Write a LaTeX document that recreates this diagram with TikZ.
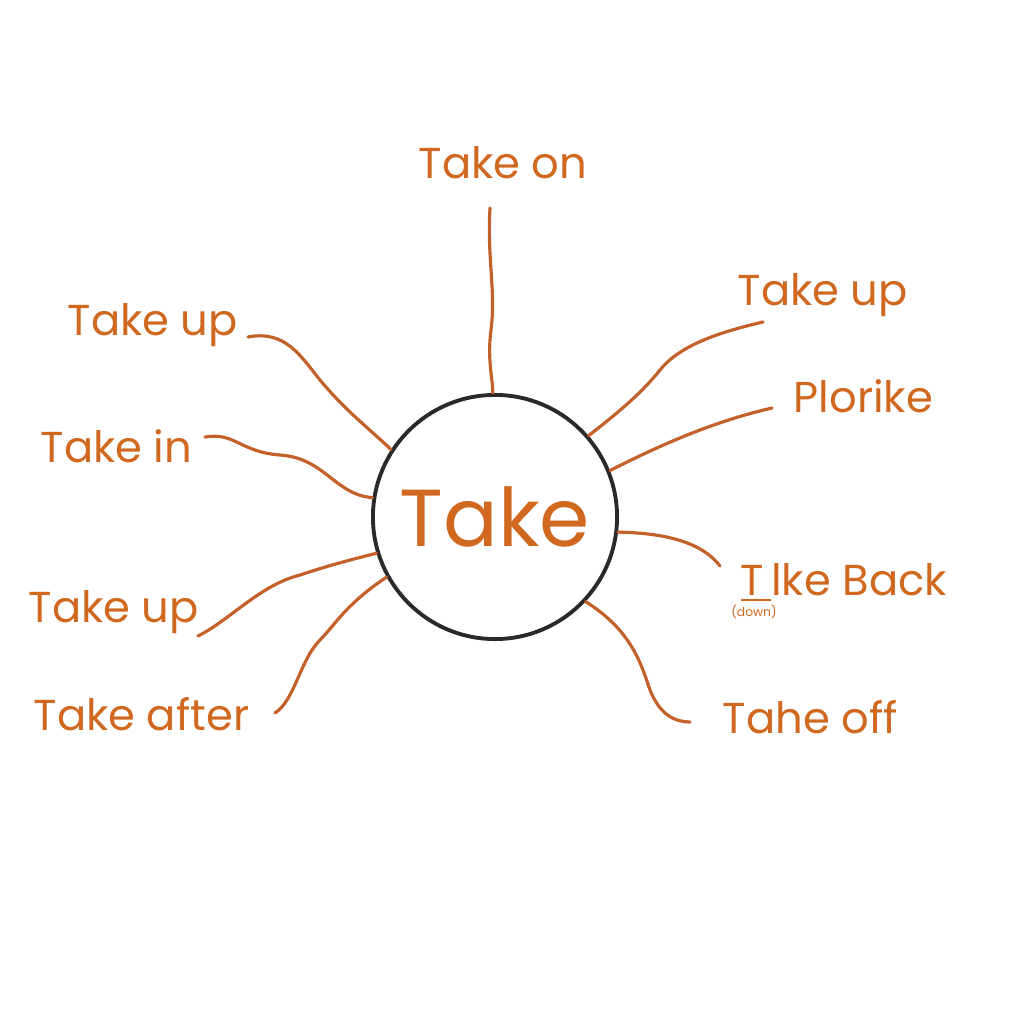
\documentclass[tikz,border=0pt]{standalone}
\usepackage{fontspec}
\setmainfont{Poppins}
\usepackage{xcolor}
\usetikzlibrary{positioning}
\definecolor{takeorange}{RGB}{208,104,32}
\definecolor{linebrown}{RGB}{196,96,42}
\definecolor{ringgray}{RGB}{42,42,42}

\begin{document}
\begin{tikzpicture}[
	x=0.01cm, y=-0.01cm,
	font=\fontsize{12.3}{14}\selectfont
]
\tikzset{
    hubnode/.style = {circle, draw=ringgray, line width=1.1pt, fill=white, minimum size=2.44cm, inner sep=0pt, text=takeorange, font=\fontsize{23}{26}\selectfont},
    leafnode/.style = {anchor=base west, inner sep=0pt, text=takeorange},
    edgen/.style = {-, line width=0.9pt, linebrown, line cap=round}
}
\useasboundingbox[fill=white] (0,0) rectangle (1024,1024);
\node[hubnode] at (495,517) (take) {Take};
%
\node[leafnode] at (418,178) (on) {Take on};
\node[leafnode] at (67,335) (upa) {Take up};
\node[leafnode] at (40,462) (in) {Take in};
\node[leafnode] at (28,622) (upb) {Take up};
\node[leafnode] at (33,730) (after) {Take after};
\node[leafnode] at (737,305) (upc) {Take up};
\node[leafnode] at (793,412) (plorike) {Plorike};
\node[leafnode] at (740,595) (back) {\underline{T\,}lke Back};
\node[inner sep=0pt, anchor=north, text=takeorange, font=\fontsize{3.5}{4}\selectfont] at ([xshift=0.14cm, yshift=-0.5pt]back.south west) (down) {(down)};
\node[leafnode] at (722,733) (off) {Tahe off};
%
\coordinate (eon) at (490,208);
\coordinate (eupa) at (248,337);
\coordinate (ein) at (205,437);
\coordinate (eupb) at (198,636);
\coordinate (eafter) at (275,713);
\coordinate (eupc) at (763,322);
\coordinate (eplorike) at (772,408);
\coordinate (eback) at (720,566);
\coordinate (eoff) at (690,722);
%
\draw[edgen] (eon) .. controls (487,260) and (496,290) .. (491,330) .. controls (487,360) and (493,380) .. (take.91);
\draw[edgen] (eupa) .. controls (285,330) and (300,355) .. (320,380) .. controls (345,410) and (365,425) .. (take.147);
\draw[edgen] (ein) .. controls (235,432) and (240,452) .. (280,455) .. controls (325,458) and (335,495) .. (take.171);
\draw[edgen] (eupb) .. controls (230,620) and (260,585) .. (300,575) .. controls (330,565) and (350,560) .. (take.197);
\draw[edgen] (eafter) .. controls (295,700) and (300,660) .. (320,640) .. controls (335,625) and (345,605) .. (take.209);
%
\draw[edgen] (eupc) .. controls (720,332) and (680,345) .. (660,370) .. controls (640,395) and (615,415) .. (take.41);
\draw[edgen] (eplorike) .. controls (720,420) and (670,440) .. (take.22);
\draw[edgen] (take.353) .. controls (660,533) and (700,540) .. (eback);
\draw[edgen] (take.317) .. controls (630,630) and (640,660) .. (650,690) .. controls (660,715) and (675,722) .. (eoff);
\end{tikzpicture}
\end{document}
